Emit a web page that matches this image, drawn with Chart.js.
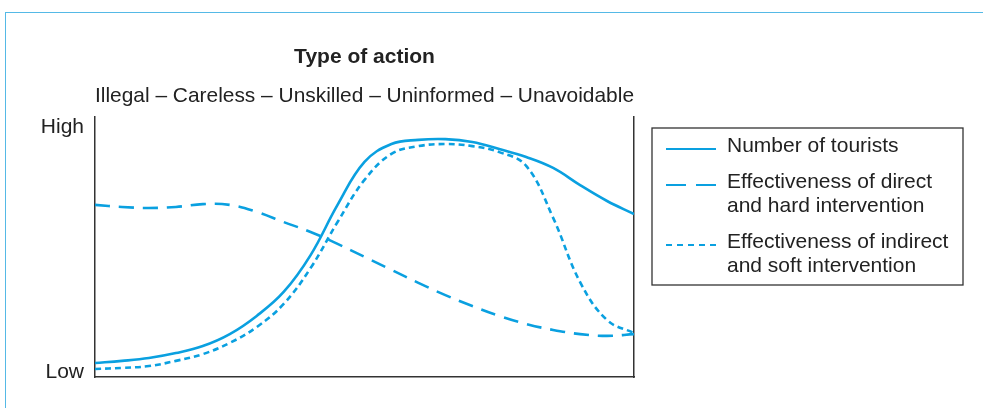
<!DOCTYPE html>
<html>
<head>
<meta charset="utf-8">
<script src="https://cdn.jsdelivr.net/npm/chart.js@4.4.1/dist/chart.umd.min.js"></script>
<style>
    body { margin: 0; background: #fff; }
    #wrap { position: relative; width: 983px; height: 408px; }
    #frame {
        position: absolute; left: 5px; top: 12px; right: 0; bottom: 0;
        border-top: 1.5px solid #55b9e6; border-left: 1.5px solid #55b9e6;
    }
    canvas { position: absolute; left: 0; top: 0; }
</style>
</head>
<body>
<div id="wrap">
    <div id="frame"></div>
    <canvas id="chart" width="983" height="408"></canvas>
</div>
<script>
// positions along the "type of action" axis (0 = illegal, 100 = unavoidable)
const xPos = [0, 5, 10, 15, 20, 25, 30, 35, 40, 45, 50, 55, 60, 65, 70, 75, 80, 85, 90, 95, 100];

// relative level, 0 = low, 100 = high
const tourists = [5.4, 6.2, 7.3, 9.2, 11.9, 16.5, 23.5, 32.7, 46.9, 66.2, 82.7, 89.6, 91.2, 91.5, 90.4, 87.7, 84.6, 80.4, 73.8, 67.7, 62.7];
const directHard = [66.2, 65.4, 65.0, 65.4, 66.5, 66.2, 63.5, 59.6, 55.8, 51.2, 46.2, 41.2, 36.2, 31.5, 27.3, 23.5, 20.4, 18.1, 16.5, 15.8, 16.5];
const indirectSoft = [3.1, 3.5, 4.2, 6.2, 8.8, 13.1, 19.2, 28.1, 41.9, 59.6, 75.8, 85.8, 88.8, 89.6, 88.8, 86.5, 81.2, 61.2, 36.5, 21.9, 16.9];

const levelValues = [2, 96];
const levelLabels = ['Low', 'High'];

const seriesLabels = [
    ['Number of tourists'],
    ['Effectiveness of direct', 'and hard intervention'],
    ['Effectiveness of indirect', 'and soft intervention']
];

const BLUE = '#0aa0e0';
const FONT = '"Liberation Sans", Arial, sans-serif';

function toPoints(ys) {
    return ys.map((y, i) => ({ x: xPos[i], y: y }));
}

// legend drawn in a box to the right of the plot
const boxLegend = {
    id: 'boxLegend',
    afterDraw(chart) {
        const ctx = chart.ctx;
        const left = 652, top = 128, right = 963, bottom = 285;
        ctx.save();
        ctx.strokeStyle = '#333';
        ctx.lineWidth = 1.3;
        ctx.strokeRect(left, top, right - left, bottom - top);

        const rows = [146, 182, 242];
        ctx.font = '21px ' + FONT;
        ctx.fillStyle = '#222';
        ctx.textBaseline = 'middle';
        chart.data.datasets.forEach((ds, i) => {
            const y = rows[i];
            ctx.strokeStyle = ds.borderColor;
            ctx.lineWidth = 2;
            ctx.setLineDash(ds.legendDash || []);
            ctx.beginPath();
            ctx.moveTo(666, y + 3);
            ctx.lineTo(716, y + 3);
            ctx.stroke();
            ctx.setLineDash([]);
            ds.label.forEach((line, j) => {
                ctx.fillText(line, 727, y + j * 24.5);
            });
        });
        ctx.restore();
    }
};

new Chart(document.getElementById('chart'), {
    type: 'line',
    data: {
        datasets: [
            {
                label: seriesLabels[0],
                data: toPoints(tourists),
                borderColor: BLUE,
                borderWidth: 2.6
            },
            {
                label: seriesLabels[1],
                data: toPoints(directHard),
                borderColor: BLUE,
                borderWidth: 2.6,
                borderDash: [15, 9],
                legendDash: [20, 10]
            },
            {
                label: seriesLabels[2],
                data: toPoints(indirectSoft),
                borderColor: BLUE,
                borderWidth: 2.6,
                borderDash: [6, 4],
                legendDash: [6, 5]
            }
        ]
    },
    options: {
        responsive: false,
        animation: false,
        layout: { padding: { top: 0, left: 0, right: 0, bottom: 31 } },
        elements: {
            point: { radius: 0 },
            line: { tension: 0.4, fill: false }
        },
        scales: {
            x: {
                type: 'linear',
                min: 0,
                max: 100,
                ticks: { display: false },
                grid: { display: false, drawTicks: false },
                border: { display: true, color: '#333', width: 1.5 }
            },
            y: {
                min: 0,
                max: 100,
                afterBuildTicks: (axis) => {
                    axis.ticks = levelValues.map(v => ({ value: v }));
                },
                afterFit: (axis) => { axis.width = 95; },
                ticks: {
                    padding: 11,
                    color: '#222',
                    font: { family: FONT, size: 21 },
                    callback: (value, index) => levelLabels[index]
                },
                grid: { display: false, drawTicks: false },
                border: { display: true, color: '#333', width: 1.5 }
            },
            yRight: {
                position: 'right',
                min: 0,
                max: 100,
                afterFit: (axis) => { axis.width = 349; },
                ticks: { display: false },
                grid: { display: false, drawTicks: false },
                border: { display: true, color: '#333', width: 1.5 }
            }
        },
        plugins: {
            legend: { display: false },
            tooltip: { enabled: false },
            title: {
                display: true,
                fullSize: false,
                text: 'Type of action',
                color: '#222',
                font: { family: FONT, size: 21, weight: 'bold', lineHeight: 1.2 },
                padding: { top: 44.5, bottom: 0 }
            },
            subtitle: {
                display: true,
                fullSize: false,
                text: 'Illegal \u2013 Careless \u2013 Unskilled \u2013 Uninformed \u2013 Unavoidable',
                color: '#222',
                font: { family: FONT, size: 21, lineHeight: 1.2 },
                padding: { top: 13.7, bottom: 8.4 }
            }
        }
    },
    plugins: [boxLegend]
});
</script>
</body>
</html>
